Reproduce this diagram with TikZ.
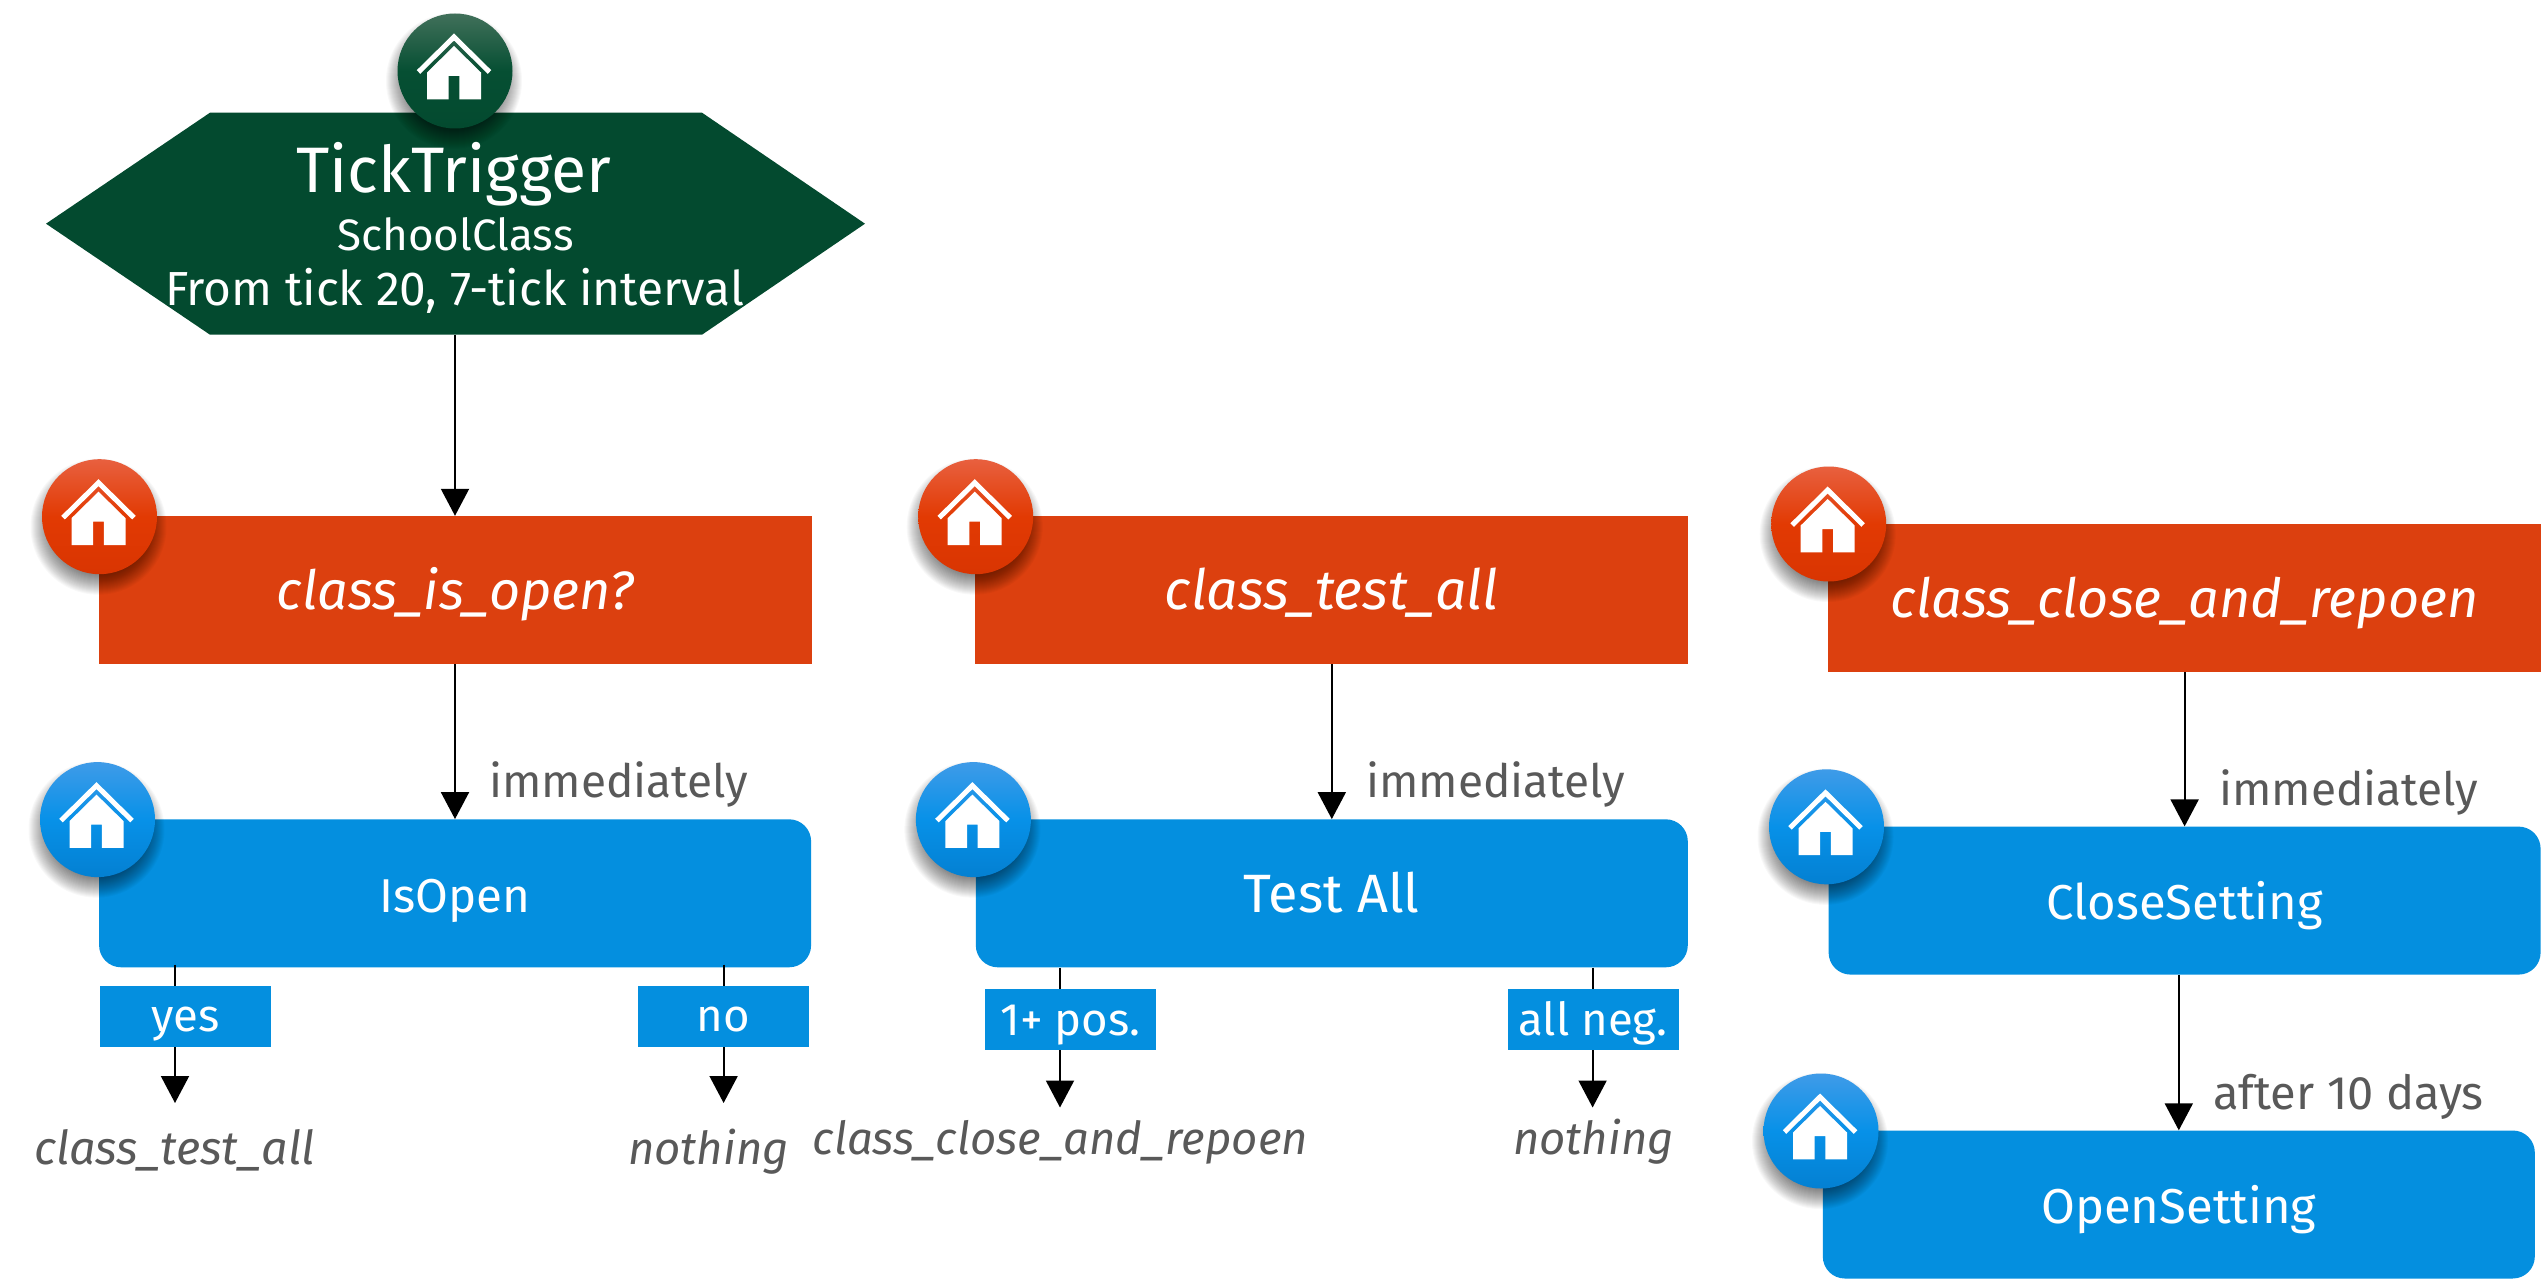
\documentclass[tikz,border=0pt]{standalone}
\usepackage{fontspec}
\setmainfont{Fira Sans}
\usetikzlibrary{arrows.meta,calc}
\definecolor{hexgreen}{HTML}{034A2F}
\definecolor{boxred}{HTML}{DC400F}
\definecolor{boxblue}{HTML}{048FDF}
\definecolor{notegrey}{HTML}{595959}
\definecolor{gtop}{HTML}{41705A}
\definecolor{gmid}{HTML}{064F33}
\definecolor{rtop}{HTML}{E8603F}
\definecolor{rmid}{HTML}{E23A03}
\definecolor{rbot}{HTML}{D93502}
\definecolor{btop}{HTML}{3F9BE8}
\definecolor{bmid}{HTML}{0791E8}
\definecolor{bbot}{HTML}{0480D2}
\newcommand\fsz[1]{\fontsize{#1}{#1}\selectfont}
\newcommand\homeicon[4]{%
  \foreach \r in {46,47,...,68} {\fill[black,opacity=.028] ($(#2,#3)+(-1,10)$) circle[radius=\r pt];}
  \node[iconball,#4] (#1) at (#2,#3) {};
  \pic at ($(#1)+(-1,0)$) {homeglyph};
}
\tikzset{
  x=1pt,y=-1pt,
  iconball/.style={circle,minimum size=115pt,inner sep=0pt},
  greenball/.style={top color=gtop,bottom color=hexgreen,middle color=gmid},
  redball/.style={top color=rtop,bottom color=rbot,middle color=rmid},
  blueball/.style={top color=btop,bottom color=bbot,middle color=bmid},
  homeglyph/.pic={
    \fill[white] (-27,28.3) -- (-5.3,28.3) -- (-5.3,5) -- (5.3,5) -- (5.3,28.3) -- (27,28.3) -- (27,1.5) -- (0,-25) -- (-27,1.5) -- cycle;
    \draw[white,line width=5pt,miter limit=10] (-35.5,1) -- (0,-34) -- (35.5,1);
  },
  redbox/.style={fill=boxred,text=white,inner sep=0pt,minimum width=713pt,minimum height=148pt,text height=50pt,text depth=12pt,font=\fsz{54}\itshape},
  bluebox/.style={fill=boxblue,text=white,rounded corners=22pt,inner sep=0pt,minimum width=712pt,minimum height=148pt,text height=50pt,text depth=12pt,font=\fsz{49}},
  branch/.style={fill=boxblue,text=white,inner sep=0pt,minimum width=171pt,minimum height=61pt,text height=40pt,text depth=9pt,font=\fsz{45.5}},
  flow/.style={draw=black,line width=2pt,-{Triangle[width=28pt,length=27pt]}},
  timing/.style={text=notegrey,anchor=base west,inner sep=0pt,font=\fsz{46}},
  target/.style={text=notegrey,anchor=base,inner sep=0pt,font=\fsz{45.5}\itshape},
  hextext/.style={text=white,anchor=base,inner sep=0pt},
}
\begin{document}
\begin{tikzpicture}
\useasboundingbox (0,0) rectangle (2541,1279);
\fill[white] (0,0) rectangle (2541,1279);
% trigger
\fill[hexgreen] (46,223.7) -- (210,112.7) -- (702,112.7) -- (865,223.7) -- (702,334.7) -- (210,334.7) -- cycle;
\coordinate (hexbottom) at (455,334.7);
% first column
\node[redbox] (openq) at (455.3,590) {class\_is\_open?};
\node[bluebox] (isopen) at (455.1,893.3) {\fsz{47.5}IsOpen};
% second column
\node[redbox,font=\fsz{55.5}\itshape] (testall) at (1331.8,590) {class\_test\_all};
\node[bluebox] (testbox) at (1331.8,893.3) {\fsz{54}Test All};
% third column
\node[redbox] (closeopen) at (2184.6,598) {class\_close\_and\_repoen};
\node[bluebox] (closeset) at (2184.6,900.6) {CloseSetting};
\node[bluebox] (openset) at (2178.8,1204.5) {OpenSetting};
% connectors
\coordinate (tyes) at (175,1103);
\coordinate (tno) at (723.6,1103);
\coordinate (tpos) at (1060,1107.5);
\coordinate (tneg) at (1592.6,1107.5);
\draw[flow] (hexbottom) -- (openq.north -| hexbottom);
\draw[flow] (openq.south -| hexbottom) -- (isopen.north -| hexbottom);
\draw[flow] (testall.south) -- (testbox.north);
\draw[flow] (closeopen.south) -- (closeset.north);
\draw[flow] (closeset.south -| openset) -- (openset.north);
\draw[flow] ([yshift=3pt]isopen.south -| tyes) -- (tyes);
\draw[flow] ([yshift=3pt]isopen.south -| tno) -- (tno);
\draw[flow] (testbox.south -| tpos) -- (tpos);
\draw[flow] (testbox.south -| tneg) -- (tneg);
% branch labels
\node[branch] (byes) at (185.3,1016.3) {yes};
\node[branch] (bno) at (723.4,1016.3) {no};
\node[branch] (bpos) at (1070.5,1019.5) {1+ pos.};
\node[branch] (bneg) at (1593,1019.5) {all neg.};
% icons
\homeicon{igreen}{455}{71}{greenball}
\homeicon{ired}{99.5}{516.7}{redball}
\homeicon{iblue}{97.5}{819.6}{blueball}
\homeicon{iredb}{975.7}{516.7}{redball}
\homeicon{iblueb}{973.4}{819.6}{blueball}
\homeicon{iredc}{1828.7}{524}{redball}
\homeicon{ibluec}{1826.5}{826.8}{blueball}
\homeicon{ibluee}{1821}{1131}{blueball}
% trigger text
\node[hextext,font=\fsz{64.3}] (tta) at (454,192) {TickTrigger};
\node[hextext,font=\fsz{44}] (ttb) at (455.5,250) {SchoolClass};
\node[hextext,font=\fsz{47.8}] (ttc) at (454.5,305) {From tick 20, 7-tick interval};
% timing notes
\node[timing] (na) at (489,797) {immediately};
\node[timing] (nb) at (1366,797) {immediately};
\node[timing] (nc) at (2219,805) {immediately};
\node[timing,font=\fsz{47}] (nd) at (2213,1109) {after 10 days};
% target notes
\node[target,font=\fsz{46.7}\itshape] (ga) at (174.5,1164) {class\_test\_all};
\node[target] (gb) at (708.5,1164) {nothing};
\node[target] (gc) at (1060.3,1154.6) {class\_close\_and\_repoen};
\node[target] (gd) at (1593.5,1154.6) {nothing};
\end{tikzpicture}
\end{document}
